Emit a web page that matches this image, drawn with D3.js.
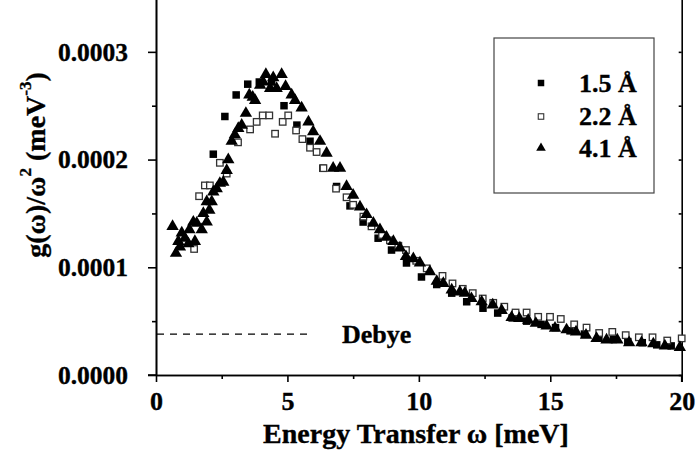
<!DOCTYPE html>
<html>
<head>
<meta charset="utf-8">
<script src="https://cdn.jsdelivr.net/npm/d3@7"></script>
<style>
  html, body { margin: 0; padding: 0; background: #fff; }
  svg { display: block; }
  text { font-family: "Liberation Serif", "Times New Roman", serif; font-weight: bold; fill: #000; stroke: #000; stroke-width: 0.35px; }
</style>
</head>
<body>
<svg id="chart" width="697" height="457"></svg>
<script>
// ---- data ----
const seriesNames = ["1.5 Å", "2.2 Å", "4.1 Å"];

const w15 = [2.18, 2.62, 3.05, 3.49, 3.93, 4.40, 4.87, 5.36, 5.86, 6.35, 6.87, 7.38, 7.88, 8.45, 8.96, 9.53, 10.10, 10.68, 11.25, 11.82, 12.44, 13.00, 13.55, 14.10, 14.65, 15.20, 15.75, 16.30, 16.85, 17.40, 17.95, 18.50, 19.05, 19.60];
const g15 = [2.05e-4, 2.40e-4, 2.60e-4, 2.70e-4, 2.72e-4, 2.72e-4, 2.50e-4, 2.32e-4, 2.17e-4, 1.92e-4, 1.75e-4, 1.57e-4, 1.42e-4, 1.27e-4, 1.16e-4, 1.04e-4, 0.91e-4, 0.84e-4, 0.76e-4, 0.68e-4, 0.62e-4, 0.575e-4, 0.53e-4, 0.50e-4, 0.47e-4, 0.44e-4, 0.41e-4, 0.38e-4, 0.35e-4, 0.33e-4, 0.31e-4, 0.30e-4, 0.28e-4, 0.27e-4];

const w22 = [1.45, 1.64, 1.86, 2.05, 2.43, 2.69, 3.12, 3.58, 3.83, 4.06, 4.31, 4.53, 4.82, 5.03, 5.33, 5.57, 5.86, 6.11, 6.37, 6.85, 7.25, 7.50, 7.89, 8.20, 8.60, 8.90, 9.22, 9.51, 9.90, 10.30, 10.90, 11.28, 11.67, 12.05, 12.43, 12.83, 13.25, 13.68, 14.10, 14.54, 14.99, 15.40, 15.91, 16.38, 16.86, 17.36, 17.87, 18.37, 18.89, 19.45, 20.00];
const g22 = [1.17e-4, 1.66e-4, 1.76e-4, 1.76e-4, 1.97e-4, 1.87e-4, 2.16e-4, 2.28e-4, 2.35e-4, 2.41e-4, 2.41e-4, 2.24e-4, 2.35e-4, 2.41e-4, 2.27e-4, 2.19e-4, 2.11e-4, 2.07e-4, 1.92e-4, 1.73e-4, 1.65e-4, 1.58e-4, 1.47e-4, 1.38e-4, 1.30e-4, 1.25e-4, 1.20e-4, 1.16e-4, 1.06e-4, 0.99e-4, 0.92e-4, 0.85e-4, 0.80e-4, 0.76e-4, 0.71e-4, 0.67e-4, 0.634e-4, 0.58e-4, 0.58e-4, 0.54e-4, 0.54e-4, 0.52e-4, 0.47e-4, 0.44e-4, 0.39e-4, 0.40e-4, 0.37e-4, 0.35e-4, 0.35e-4, 0.32e-4, 0.34e-4];

const w41 = [0.63, 0.76, 0.85, 0.91, 0.98, 1.10, 1.23, 1.27, 1.42, 1.48, 1.55, 1.74, 1.80, 1.93, 1.93, 2.03, 2.12, 2.18, 2.31, 2.43, 2.56, 2.69, 2.75, 2.88, 3.00, 3.13, 3.26, 3.42, 3.55, 3.68, 3.77, 3.96, 4.08, 4.18, 4.34, 4.46, 4.59, 4.78, 4.93, 5.16, 5.29, 5.54, 5.80, 5.98, 6.24, 6.49, 6.74, 7.00, 7.25, 7.50, 7.76, 8.01, 8.27, 8.52, 8.77, 9.03, 9.28, 9.51, 9.79, 10.04, 10.42, 10.68, 10.93, 11.25, 11.56, 11.75, 12.00, 12.39, 12.81, 13.15, 13.53, 13.82, 14.16, 14.45, 14.86, 15.18, 15.62, 15.98, 16.36, 16.76, 17.14, 17.55, 18.00, 18.47, 18.92, 19.36, 19.93];
const g41 = [1.38e-4, 1.13e-4, 1.24e-4, 1.19e-4, 1.32e-4, 1.27e-4, 1.22e-4, 1.35e-4, 1.42e-4, 1.24e-4, 1.41e-4, 1.35e-4, 1.50e-4, 1.42e-4, 1.61e-4, 1.53e-4, 1.61e-4, 1.70e-4, 1.73e-4, 1.78e-4, 1.79e-4, 1.90e-4, 2.00e-4, 2.17e-4, 2.23e-4, 2.29e-4, 2.32e-4, 2.43e-4, 2.60e-4, 2.58e-4, 2.55e-4, 2.69e-4, 2.72e-4, 2.79e-4, 2.66e-4, 2.76e-4, 2.66e-4, 2.79e-4, 2.68e-4, 2.60e-4, 2.55e-4, 2.48e-4, 2.35e-4, 2.26e-4, 2.17e-4, 2.06e-4, 1.92e-4, 1.92e-4, 1.75e-4, 1.67e-4, 1.56e-4, 1.49e-4, 1.41e-4, 1.35e-4, 1.28e-4, 1.24e-4, 1.18e-4, 1.10e-4, 1.08e-4, 1.04e-4, 0.96e-4, 0.87e-4, 0.85e-4, 0.79e-4, 0.77e-4, 0.76e-4, 0.71e-4, 0.68e-4, 0.65e-4, 0.60e-4, 0.535e-4, 0.525e-4, 0.51e-4, 0.48e-4, 0.455e-4, 0.434e-4, 0.42e-4, 0.40e-4, 0.37e-4, 0.34e-4, 0.325e-4, 0.325e-4, 0.30e-4, 0.30e-4, 0.29e-4, 0.27e-4, 0.257e-4];

const debyeW = [0, 5.9];
const debyeG = [0.38e-4, 0.38e-4];

const xTicks = [0, 5, 10, 15, 20];
const xMinorTicks = [2.5, 7.5, 12.5, 17.5];
const yTicks = [0, 0.0001, 0.0002, 0.0003];
const yTickLabels = ["0.0000", "0.0001", "0.0002", "0.0003"];
const yMinorTicks = [0.00005, 0.00015, 0.00025];

// ---- drawing ----
const svg = d3.select("#chart");
const x = d3.scaleLinear().domain([0, 20]).range([156, 681.7]);
const y = d3.scaleLinear().domain([0, 0.00035]).range([375, -2]);

// axes
const gx = svg.append("g").attr("transform", "translate(0,375)")
  .call(d3.axisBottom(x).tickValues(xTicks).tickSizeInner(7).tickSizeOuter(0).tickPadding(10).tickFormat(d3.format("d")));
const gxm = svg.append("g").attr("transform", "translate(0,375)")
  .call(d3.axisBottom(x).tickValues(xMinorTicks).tickSizeInner(4).tickSizeOuter(0).tickFormat(""));
const gy = svg.append("g").attr("transform", "translate(156,0)")
  .call(d3.axisLeft(y).tickValues(yTicks).tickSizeInner(8).tickSizeOuter(0).tickPadding(20).tickFormat((d, i) => yTickLabels[i]));
const gym = svg.append("g").attr("transform", "translate(156,0)")
  .call(d3.axisLeft(y).tickValues(yMinorTicks).tickSizeInner(4).tickSizeOuter(0).tickFormat(""));
const gr = svg.append("g").attr("transform", "translate(681.7,0)")
  .call(d3.axisRight(y).tickValues(yTicks.concat(yMinorTicks)).tickSizeInner(-3).tickSizeOuter(0).tickFormat(""));

[gx, gxm, gy, gym, gr].forEach(g => {
  g.selectAll(".domain").attr("stroke", "#000").attr("stroke-width", 1.6);
  g.selectAll(".tick line").attr("stroke", "#000").attr("stroke-width", 1.6);
});
gx.selectAll(".tick text").attr("font-size", 26).attr("fill", "#000");
gy.selectAll(".tick text").attr("font-size", 25.5).attr("fill", "#000").attr("dy", "0.33em");
// extend the x-axis line a bit to the left and the right axis down to the 20 tick
svg.append("line").attr("x1", 148).attr("x2", 156).attr("y1", 375).attr("y2", 375).attr("stroke", "#000").attr("stroke-width", 1.6);
svg.append("line").attr("x1", x(20)).attr("x2", x(20)).attr("y1", 375).attr("y2", 382).attr("stroke", "#000").attr("stroke-width", 1.6);

// Debye line
svg.append("line")
  .attr("x1", x(debyeW[0]) + 1).attr("x2", x(debyeW[1]))
  .attr("y1", y(debyeG[0])).attr("y2", y(debyeG[1]))
  .attr("stroke", "#000").attr("stroke-width", 1.2).attr("stroke-dasharray", "7,6");
svg.append("text").attr("x", 342).attr("y", 343).attr("font-size", 26).text("Debye");

// data marks
const d15 = w15.map((w, i) => ({ w, g: g15[i] }));
const d22 = w22.map((w, i) => ({ w, g: g22[i] }));
const d41 = w41.map((w, i) => ({ w, g: g41[i] }));
const sq = 7.5;

svg.append("g").selectAll("rect").data(d15).join("rect")
  .attr("x", d => x(d.w) - sq / 2).attr("y", d => y(d.g) - sq / 2)
  .attr("width", sq).attr("height", sq).attr("fill", "#000");

svg.append("g").selectAll("rect").data(d22).join("rect")
  .attr("x", d => x(d.w) - sq / 2 + 0.5).attr("y", d => y(d.g) - sq / 2 + 0.5)
  .attr("width", sq - 1).attr("height", sq - 1)
  .attr("fill", "#fff").attr("stroke", "#333").attr("stroke-width", 1.3);

const tri = d3.symbol().type(d3.symbolTriangle).size(66);
svg.append("g").selectAll("path").data(d41).join("path")
  .attr("transform", d => `translate(${x(d.w)},${y(d.g)})`)
  .attr("d", tri).attr("fill", "#000");

// legend
svg.append("rect").attr("x", 494).attr("y", 38).attr("width", 160).attr("height", 155)
  .attr("fill", "none").attr("stroke", "#444").attr("stroke-width", 1.2);
const legY = [83, 116.5, 148];
const lm = 6.5;
svg.append("rect").attr("x", 541 - lm / 2).attr("y", legY[0] - lm / 2).attr("width", lm).attr("height", lm).attr("fill", "#000");
svg.append("rect").attr("x", 541 - lm / 2 + 0.5).attr("y", legY[1] - lm / 2 + 0.5).attr("width", lm - 1).attr("height", lm - 1)
  .attr("fill", "#fff").attr("stroke", "#333").attr("stroke-width", 1.1);
svg.append("path").attr("transform", `translate(541,${legY[2]})`).attr("d", d3.symbol().type(d3.symbolTriangle).size(40)).attr("fill", "#000");
seriesNames.forEach((n, i) => {
  svg.append("text").attr("x", 579).attr("y", legY[i] + 8.7).attr("font-size", 26).text(n);
});

// axis titles
svg.append("text").attr("x", 416).attr("y", 443).attr("text-anchor", "middle").attr("font-size", 28)
  .text("Energy Transfer ω [meV]");

const yt = svg.append("text").attr("transform", "translate(45,165) rotate(-90)").attr("text-anchor", "middle").attr("font-size", 28);
yt.append("tspan").text("g(ω)/ω");
yt.append("tspan").attr("font-size", 17).attr("dy", -14).text("2");
yt.append("tspan").attr("dy", 14).text(" (meV");
yt.append("tspan").attr("font-size", 17).attr("dy", -14).text("-3");
yt.append("tspan").attr("dy", 14).text(")");
</script>
</body>
</html>
